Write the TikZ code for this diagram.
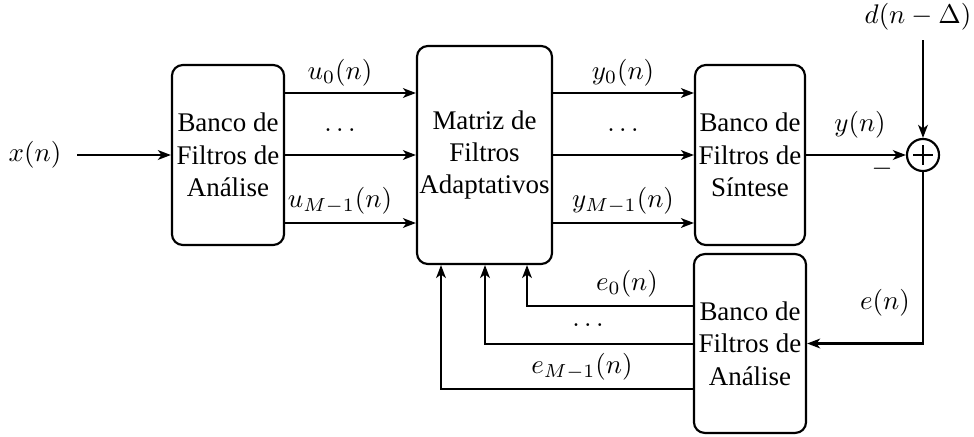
\documentclass[tikz,border=0pt]{standalone}
\usepackage{fontspec}
\setmainfont{Liberation Serif}
\usetikzlibrary{arrows.meta,calc}
\begin{document}
\begin{tikzpicture}[x=0.3712pt,y=-0.3712pt,
  blk/.style={draw,line width=0.8pt,rounded corners=4pt,align=center,inner sep=0pt},
  arr/.style={line width=0.8pt,-{Stealth[length=4.8pt,width=3.6pt,inset=1.3pt]}},
  ln/.style={line width=0.8pt},
  lbl/.style={inner sep=0pt}]
\useasboundingbox (0,0) rectangle (974,436);
% blocks
\node[blk,minimum width=41.6pt,minimum height=66.8pt] (b1) at (228,155) {Banco de\\Filtros de\\Análise};
\node[blk,minimum width=50.1pt,minimum height=80.9pt] (mat) at (484.5,155) {Matriz de\\Filtros\\Adaptativos};
\node[blk,minimum width=40.8pt,minimum height=66.8pt] (b3) at (750,155) {Banco de\\Filtros de\\Síntese};
\node[blk,minimum width=41.6pt,minimum height=66.4pt] (b4) at (750,343.5) {Banco de\\Filtros de\\Análise};
\node[draw,circle,line width=0.8pt,minimum size=11.9pt,inner sep=0pt] (sum) at (923,155) {};
\draw[ln] ($(sum.center)+(-10,0)$) -- ($(sum.center)+(10,0)$);
\draw[ln] ($(sum.center)+(0,-10)$) -- ($(sum.center)+(0,10)$);
% input
\node[lbl] (xin) at (35,155) {$x(n)$};
\coordinate (xs) at (77,155);
\draw[arr] (xs) -- (b1.west);
% analysis -> matrix
\draw[arr] (b1.east |- 0,93) -- (mat.west |- 0,93);
\draw[arr] (b1.east |- 0,155) -- (mat.west |- 0,155);
\draw[arr] (b1.east |- 0,223) -- (mat.west |- 0,223);
\node[lbl] (u0) at (340,73) {$u_0(n)$};
\node[lbl] (ud) at (340,130) {$\ldots$};
\node[lbl] (uM) at (340,201) {$u_{M-1}(n)$};
% matrix -> synthesis
\draw[arr] (mat.east |- 0,93) -- (b3.west |- 0,93);
\draw[arr] (mat.east |- 0,155) -- (b3.west |- 0,155);
\draw[arr] (mat.east |- 0,223) -- (b3.west |- 0,223);
\node[lbl] (y0) at (623,73) {$y_0(n)$};
\node[lbl] (yd) at (623,130) {$\ldots$};
\node[lbl] (yM) at (623,201) {$y_{M-1}(n)$};
% synthesis -> sum
\draw[arr] (b3.east) -- (sum.west);
\node[lbl] (yn) at (860,125) {$y(n)$};
\node[lbl] (minus) at (882,169) {$-$};
% desired
\node[lbl] (dn) at (918,17) {$d(n-\Delta)$};
\coordinate (ds) at (923,40);
\draw[arr] (ds) -- (sum.north);
% error
\draw[arr] (sum.south) |- (b4.east);
\node[lbl] (en) at (885,303) {$e(n)$};
% feedback
\draw[arr] (b4.west |- 0,306) -| (mat.south -| 527,0);
\draw[arr] (b4.west |- 0,344) -| (mat.south -| 485,0);
\draw[arr] (b4.west |- 0,389) -| (mat.south -| 441,0);
\node[lbl] (e0) at (627,284) {$e_0(n)$};
\node[lbl] (ed) at (588,325) {$\ldots$};
\node[lbl] (eM) at (582,367) {$e_{M-1}(n)$};
\end{tikzpicture}
\end{document}
